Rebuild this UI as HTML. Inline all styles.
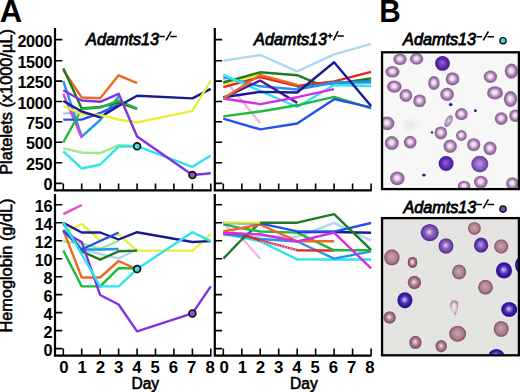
<!DOCTYPE html>
<html><head><meta charset="utf-8"><title>Figure</title><style>html,body{margin:0;padding:0;background:#fff;width:520px;height:392px;overflow:hidden}svg{display:block}text{font-family:"Liberation Sans",sans-serif;fill:#000}</style></head><body>
<svg width="520" height="392" viewBox="0 0 520 392">
<defs><radialGradient id="gn" cx="0.5" cy="0.5" r="0.5" fx="0.47" fy="0.45"><stop offset="0" stop-color="#f6eef6"/><stop offset="0.28" stop-color="#ecdcec"/><stop offset="0.5" stop-color="#c6a4cc"/><stop offset="0.66" stop-color="#a680b2"/><stop offset="0.86" stop-color="#8e6498"/><stop offset="1" stop-color="#946f9e"/></radialGradient><radialGradient id="gd" cx="0.5" cy="0.5" r="0.5" fx="0.47" fy="0.45"><stop offset="0" stop-color="#9468d4"/><stop offset="0.3" stop-color="#7a48c4"/><stop offset="0.6" stop-color="#5e2eb2"/><stop offset="0.85" stop-color="#4a1e9c"/><stop offset="1" stop-color="#4a2496"/></radialGradient><radialGradient id="gm" cx="0.5" cy="0.5" r="0.5" fx="0.47" fy="0.45"><stop offset="0" stop-color="#b898dc"/><stop offset="0.3" stop-color="#a07ed0"/><stop offset="0.6" stop-color="#8860c0"/><stop offset="0.85" stop-color="#6c46a6"/><stop offset="1" stop-color="#7050a8"/></radialGradient><radialGradient id="gs" cx="0.5" cy="0.5" r="0.5" fx="0.47" fy="0.45"><stop offset="0" stop-color="#4a1c8c"/><stop offset="1" stop-color="#2a0c60"/></radialGradient><radialGradient id="gt" cx="0.5" cy="0.5" r="0.5" fx="0.47" fy="0.45"><stop offset="0" stop-color="#e4d8ec"/><stop offset="0.4" stop-color="#c4b0d0"/><stop offset="0.75" stop-color="#a890b6"/><stop offset="1" stop-color="#8c74a0"/></radialGradient><radialGradient id="gp" cx="0.5" cy="0.5" r="0.5" fx="0.47" fy="0.45"><stop offset="0" stop-color="#e6dcf0"/><stop offset="0.2" stop-color="#bca2d8"/><stop offset="0.45" stop-color="#8a62bc"/><stop offset="0.75" stop-color="#7048a8"/><stop offset="0.92" stop-color="#56308c"/><stop offset="1" stop-color="#6c4c9c"/></radialGradient><radialGradient id="gp2" cx="0.5" cy="0.5" r="0.5" fx="0.47" fy="0.45"><stop offset="0" stop-color="#b6a2e2"/><stop offset="0.3" stop-color="#9070cc"/><stop offset="0.6" stop-color="#6c3eb0"/><stop offset="0.85" stop-color="#50268e"/><stop offset="1" stop-color="#5a3494"/></radialGradient><radialGradient id="gb" cx="0.5" cy="0.5" r="0.5" fx="0.47" fy="0.45"><stop offset="0" stop-color="#d4ccf2"/><stop offset="0.22" stop-color="#9a84dc"/><stop offset="0.5" stop-color="#4c2cb4"/><stop offset="0.82" stop-color="#2c128e"/><stop offset="1" stop-color="#3a2496"/></radialGradient><radialGradient id="gr" cx="0.5" cy="0.5" r="0.5" fx="0.47" fy="0.45"><stop offset="0" stop-color="#caa8b2"/><stop offset="0.35" stop-color="#b88f9c"/><stop offset="0.65" stop-color="#aa8290"/><stop offset="0.88" stop-color="#8c5e6c"/><stop offset="1" stop-color="#9a707c"/></radialGradient><radialGradient id="grs" cx="0.5" cy="0.5" r="0.5" fx="0.47" fy="0.45"><stop offset="0" stop-color="#f4e8ee"/><stop offset="0.35" stop-color="#d0b0bc"/><stop offset="0.65" stop-color="#9a6478"/><stop offset="1" stop-color="#7a4a60"/></radialGradient><radialGradient id="grd" cx="0.5" cy="0.5" r="0.5" fx="0.47" fy="0.45"><stop offset="0" stop-color="#f2e6ee"/><stop offset="0.22" stop-color="#d4b6c4"/><stop offset="0.48" stop-color="#ac8294"/><stop offset="0.78" stop-color="#8c6072"/><stop offset="1" stop-color="#7e5466"/></radialGradient><radialGradient id="gtb" cx="0.5" cy="0.5" r="0.5" fx="0.47" fy="0.45"><stop offset="0" stop-color="#f4eaf0"/><stop offset="0.5" stop-color="#e0cad6"/><stop offset="0.8" stop-color="#b696a8"/><stop offset="1" stop-color="#98788a"/></radialGradient><radialGradient id="smg"><stop offset="0" stop-color="#e6e6ea" stop-opacity="0.9"/><stop offset="1" stop-color="#e6e6ea" stop-opacity="0"/></radialGradient><linearGradient id="bgb" x1="0" y1="0" x2="0" y2="1"><stop offset="0" stop-color="#e4e3e1"/><stop offset="1" stop-color="#e3e5e1"/></linearGradient><clipPath id="ct"><rect x="383" y="53.3" width="135" height="134.8"/></clipPath><clipPath id="cb"><rect x="383" y="219.2" width="135" height="135.2"/></clipPath></defs>
<rect width="520" height="392" fill="#fff"/>
<g fill="none" stroke-width="2.4" stroke-linejoin="round" stroke-linecap="butt"><polyline points="63.3,148.3 81.7,152.5 100.2,153.2 118.6,145.2 137.1,146.0" stroke="#98ec90"/><polyline points="63.3,151.3 81.7,168.5 100.2,164.5 118.6,146.6 137.1,146.2 192.4,166.8 210.8,155.4" stroke="#2ee4f0"/><polyline points="63.3,113.6 81.7,112.2" stroke="#a8c8f0"/><polyline points="63.3,81.0 81.7,136.6 100.2,120.0 118.6,96.5" stroke="#2496f0"/><polyline points="63.3,93.8 81.7,138.0" stroke="#d04cd8"/><polyline points="63.3,119.6 81.7,119.6 100.2,113.0 118.6,104.5" stroke="#2450ee"/><polyline points="63.3,70.0 81.7,97.5 100.2,98.3 118.6,75.3 137.1,83.2" stroke="#ee6a1e"/><polyline points="63.3,68.3 81.7,108.5 100.2,107.0 118.6,102.5 137.1,108.8" stroke="#1f7a22"/><polyline points="63.3,142.3 81.7,109.0 100.2,107.5 118.6,100.5 137.1,108.5" stroke="#22b83a"/><polyline points="100.2,117.3 118.6,106.0 137.1,95.7 192.4,98.4 210.8,88.9" stroke="#1c1a92"/><polyline points="63.3,106.0 81.7,114.2 100.2,115.0 118.6,119.5 137.1,122.5 192.4,110.9 210.8,80.5" stroke="#e6f03c"/><polyline points="63.3,101.0 81.7,111.5 100.2,117.3" stroke="#1c1a92"/><polyline points="63.3,90.3 81.7,100.5 100.2,101.8 118.6,93.8 137.1,136.4 192.4,175.0 210.8,173.2" stroke="#8232e4"/></g>
<g fill="none" stroke-width="2.4" stroke-linejoin="round" stroke-linecap="butt"><polyline points="223.3,60.8 260.2,55.0 297.2,71.4 334.1,54.3 371.1,43.9" stroke="#acd8f0"/><polyline points="223.3,78.0 260.2,123.3" stroke="#f2b6e6"/><polyline points="223.3,84.0 260.2,74.5" stroke="#e6f03c"/><polyline points="223.3,82.5 260.2,72.3 297.2,75.2 315.6,82.9 334.1,84.0 371.1,78.4" stroke="#1f7a22"/><polyline points="223.3,87.1 260.2,77.2 297.2,86.0 334.1,81.4 371.1,71.8" stroke="#e8261e"/><polyline points="297.2,88.0 334.1,83.0 371.1,81.0" stroke="#208c9c"/><polyline points="223.3,77.2 260.2,86.3 297.2,89.5 334.1,82.5 371.1,82.5" stroke="#2496f0"/><polyline points="223.3,74.9 297.2,107.0 334.1,85.0 371.1,86.0" stroke="#2ee4f0"/><polyline points="223.3,97.8 260.2,80.5 297.2,102.9" stroke="#4c1a8c"/><polyline points="223.3,98.5 260.2,104.1 297.2,97.2 334.1,89.1" stroke="#d22ee4"/><polyline points="223.3,97.3 260.2,91.9 297.2,92.5 334.1,62.3 371.1,106.0" stroke="#1c1a92"/><polyline points="223.3,98.6 260.2,74.9 297.2,84.8" stroke="#ee6a1e"/><polyline points="223.3,116.4 260.2,111.5 297.2,105.3 334.1,96.8 371.1,108.3" stroke="#22b83a"/><polyline points="223.3,118.7 260.2,129.4 297.2,123.5 334.1,99.2 371.1,107.3" stroke="#2450ee"/></g>
<g fill="none" stroke-width="2.4" stroke-linejoin="round" stroke-linecap="butt"><polyline points="63.3,214.1 81.7,205.0" stroke="#e44cc8"/><polyline points="63.3,241.4 81.7,243.5 100.2,248.6 118.6,241.0" stroke="#98ec90"/><polyline points="81.7,249.5 118.6,258.4 137.1,249.5" stroke="#acd8f0"/><polyline points="63.3,230.0 81.7,249.5 100.2,249.5 118.6,249.0" stroke="#2496f0"/><polyline points="63.3,233.0 81.7,224.0 100.2,240.5 118.6,234.3 137.1,250.6 192.4,250.6 210.8,233.8" stroke="#e6f03c"/><polyline points="63.3,230.0 81.7,277.5 100.2,277.5 118.6,261.0 137.1,269.4" stroke="#ee6a1e"/><polyline points="63.3,250.5 81.7,286.4 100.2,286.4 118.6,268.1 137.1,268.5" stroke="#22b83a"/><polyline points="63.3,223.5 81.7,251.3 100.2,259.6 118.6,251.3 137.1,250.6" stroke="#1f7a22"/><polyline points="63.3,222.8 81.7,232.5 100.2,232.5 118.6,239.5 137.1,232.2 192.4,242.0 210.8,241.1" stroke="#1c1a92"/><polyline points="63.3,232.0 81.7,242.0 100.2,295.0 118.6,304.5 137.1,331.4 192.4,313.4 210.8,286.4" stroke="#8232e4"/><polyline points="63.3,230.5 81.7,249.5 118.6,232.5" stroke="#2450ee"/><polyline points="63.3,222.4 100.2,286.4 118.6,286.4 137.1,269.1 192.4,232.2 210.8,241.1" stroke="#2ee4f0"/></g>
<g fill="none" stroke-width="2.4" stroke-linejoin="round" stroke-linecap="butt"><polyline points="223.3,224.0 241.8,238.0 260.2,258.7" stroke="#f2b6e6"/><polyline points="223.3,233.5 260.2,241.3 297.2,259.4 334.1,259.5 371.1,259.5" stroke="#2ee4f0"/><polyline points="223.3,234.0 260.2,236.0 297.2,237.0 334.1,222.9 371.1,240.7" stroke="#acd8f0"/><polyline points="223.3,234.2 241.8,236.2 260.2,239.0 297.2,241.5 334.1,258.6 371.1,251.4" stroke="#2496f0"/><polyline points="223.3,233.3 241.8,234.0 260.2,240.4 297.2,250.2 334.1,250.5" stroke="#e8261e"/><polyline points="260.2,241.3 297.2,250.2" stroke="#d098e8" stroke-dasharray="1.6 1.1"/><polyline points="223.3,258.6 241.8,239.5 260.2,222.8" stroke="#1f7a22"/><polyline points="223.3,224.1 241.8,228.3 260.2,231.5 297.2,232.6 334.1,250.3 371.1,250.3" stroke="#22b83a"/><polyline points="223.3,231.5 260.2,224.5 297.2,241.3 334.1,241.3" stroke="#ee6a1e"/><polyline points="297.2,232.0 334.1,232.0 371.1,232.7" stroke="#1c1a92"/><polyline points="223.3,223.0 260.2,223.4 297.2,231.4 334.1,231.7 371.1,223.0" stroke="#2450ee"/><polyline points="223.3,222.6 260.2,222.6" stroke="#e6f03c"/><polyline points="223.3,233.0 260.2,234.3 297.2,241.5 334.1,232.7 371.1,268.4" stroke="#d22ee4"/><polyline points="260.2,222.7 297.2,222.7 334.1,214.2 371.1,249.8" stroke="#1f7a22"/></g>
<circle cx="137.1" cy="146.2" r="3.4" fill="#3ee0e0" stroke="#111" stroke-width="1.7"/><circle cx="192.4" cy="175.0" r="3.4" fill="#9050d0" stroke="#111" stroke-width="1.7"/>
<circle cx="137.1" cy="269.1" r="3.4" fill="#3ee0e0" stroke="#111" stroke-width="1.7"/><circle cx="192.4" cy="313.4" r="3.4" fill="#9050d0" stroke="#111" stroke-width="1.7"/>
<path d="M55,28V190.4H211.5" stroke="#000" stroke-width="2.2" fill="none"/><path d="M55,39.6h7.3M55,60.7h7.3M55,81.1h7.3M55,101.5h7.3M55,121.7h7.3M55,142.2h7.3M55,162.8h7.3M55,183.4h7.3M63.3,190.4V183.5M81.7,190.4V183.5M100.2,190.4V183.5M118.6,190.4V183.5M137.1,190.4V183.5M155.5,190.4V183.5M173.9,190.4V183.5M192.4,190.4V183.5M210.8,190.4V183.5" stroke="#000" stroke-width="1.6" fill="none"/><path d="M214.8,28V190.4H371.6" stroke="#000" stroke-width="2.2" fill="none"/><path d="M214.8,39.6h7.3M214.8,60.7h7.3M214.8,81.1h7.3M214.8,101.5h7.3M214.8,121.7h7.3M214.8,142.2h7.3M214.8,162.8h7.3M214.8,183.4h7.3M223.3,190.4V183.5M241.8,190.4V183.5M260.2,190.4V183.5M278.7,190.4V183.5M297.2,190.4V183.5M315.6,190.4V183.5M334.1,190.4V183.5M352.6,190.4V183.5M371.1,190.4V183.5" stroke="#000" stroke-width="1.6" fill="none"/><path d="M55,194V355.6H211.5" stroke="#000" stroke-width="2.2" fill="none"/><path d="M55,204.8h7.3M55,222.8h7.3M55,240.8h7.3M55,258.7h7.3M55,276.7h7.3M55,294.6h7.3M55,312.6h7.3M55,330.6h7.3M55,348.6h7.3M63.3,355.6V348.6M81.7,355.6V348.6M100.2,355.6V348.6M118.6,355.6V348.6M137.1,355.6V348.6M155.5,355.6V348.6M173.9,355.6V348.6M192.4,355.6V348.6M210.8,355.6V348.6" stroke="#000" stroke-width="1.6" fill="none"/><path d="M214.8,194V355.6H371.6" stroke="#000" stroke-width="2.2" fill="none"/><path d="M214.8,204.8h7.3M214.8,222.8h7.3M214.8,240.8h7.3M214.8,258.7h7.3M214.8,276.7h7.3M214.8,294.6h7.3M214.8,312.6h7.3M214.8,330.6h7.3M214.8,348.6h7.3M223.3,355.6V348.6M241.8,355.6V348.6M260.2,355.6V348.6M278.7,355.6V348.6M297.2,355.6V348.6M315.6,355.6V348.6M334.1,355.6V348.6M352.6,355.6V348.6M371.1,355.6V348.6" stroke="#000" stroke-width="1.6" fill="none"/>
<g font-size="16.2" letter-spacing="-0.3" font-weight="bold"><text x="52.2" y="46.5" text-anchor="end">2000</text><text x="52.2" y="67.8" text-anchor="end">1500</text><text x="52.2" y="88.2" text-anchor="end">1250</text><text x="52.2" y="108.5" text-anchor="end">1000</text><text x="52.2" y="128.9" text-anchor="end">750</text><text x="52.2" y="149.3" text-anchor="end">500</text><text x="52.2" y="169.7" text-anchor="end">250</text><text x="52.2" y="190.3" text-anchor="end">0</text><text x="52.2" y="211.6" text-anchor="end">16</text><text x="52.2" y="229.6" text-anchor="end">14</text><text x="52.2" y="247.6" text-anchor="end">12</text><text x="52.2" y="265.6" text-anchor="end">10</text><text x="52.2" y="283.6" text-anchor="end">8</text><text x="52.2" y="301.6" text-anchor="end">6</text><text x="52.2" y="319.6" text-anchor="end">4</text><text x="52.2" y="337.6" text-anchor="end">2</text><text x="52.2" y="355.6" text-anchor="end">0</text></g>
<g font-size="16.8" font-weight="bold"><text x="63.90" y="373.2" text-anchor="middle">0</text><text x="224.10" y="373.2" text-anchor="middle">0</text><text x="82.17" y="373.2" text-anchor="middle">1</text><text x="242.32" y="373.2" text-anchor="middle">1</text><text x="100.44" y="373.2" text-anchor="middle">2</text><text x="260.54" y="373.2" text-anchor="middle">2</text><text x="118.71" y="373.2" text-anchor="middle">3</text><text x="278.76" y="373.2" text-anchor="middle">3</text><text x="136.98" y="373.2" text-anchor="middle">4</text><text x="296.98" y="373.2" text-anchor="middle">4</text><text x="155.25" y="373.2" text-anchor="middle">5</text><text x="315.20" y="373.2" text-anchor="middle">5</text><text x="173.52" y="373.2" text-anchor="middle">6</text><text x="333.42" y="373.2" text-anchor="middle">6</text><text x="191.79" y="373.2" text-anchor="middle">7</text><text x="351.64" y="373.2" text-anchor="middle">7</text><text x="210.06" y="373.2" text-anchor="middle">8</text><text x="369.86" y="373.2" text-anchor="middle">8</text></g>
<text transform="translate(-0.2,21.9) scale(0.97,1)" font-size="32" font-weight="bold">A</text><text transform="translate(379.3,21.6) scale(0.93,1)" font-size="32" font-weight="bold">B</text><text x="86.1" y="45.3" font-size="16.2" font-style="italic" stroke="#000" stroke-width="0.8">Adamts13</text><text x="254.1" y="45.3" font-size="16.2" font-style="italic" stroke="#000" stroke-width="0.8">Adamts13</text><text x="403.1" y="45.0" font-size="16.2" font-style="italic" stroke="#000" stroke-width="0.8">Adamts13</text><text x="403.4" y="213.0" font-size="16.2" font-style="italic" stroke="#000" stroke-width="0.8">Adamts13</text><path d="M159.4,36.6h5.4M166.0,40.3L171.2,31.4M170.2,36.6h6.6" stroke="#000" stroke-width="1.5" fill="none"/><path d="M476.6,36.7h5.4M483.2,40.4L488.4,31.5M487.4,36.7h6.6" stroke="#000" stroke-width="1.5" fill="none"/><path d="M476.6,204.6h5.4M483.2,208.3L488.4,199.4M487.4,204.6h6.6" stroke="#000" stroke-width="1.5" fill="none"/><path d="M327.6,35.7h5M330.1,33.2v5M333.5,40.3L338.1,31.1M337.3,36.1h6.5" stroke="#000" stroke-width="1.5" fill="none"/><circle cx="503" cy="40.7" r="3.1" fill="#3ee0d8" stroke="#111" stroke-width="1.4"/><circle cx="503" cy="209.1" r="3.1" fill="#8a44d8" stroke="#111" stroke-width="1.4"/><text transform="translate(12.4,101.95) rotate(-90)" text-anchor="middle" font-size="16.38" stroke="#000" stroke-width="0.55">Platelets (x1000/&#181;L)</text><text transform="translate(12.4,265.55) rotate(-90)" text-anchor="middle" font-size="16.29" stroke="#000" stroke-width="0.55">Hemoglobin (g/dL)</text><text x="145.3" y="388.5" text-anchor="middle" font-size="15.6" stroke="#000" stroke-width="0.6">Day</text><text x="303.9" y="388.5" text-anchor="middle" font-size="15.6" stroke="#000" stroke-width="0.6">Day</text>
<rect x="383" y="53.3" width="135" height="134.8" fill="#f7f7f8"/><ellipse cx="411" cy="125" rx="11" ry="9" fill="url(#smg)"/><g clip-path="url(#ct)"><ellipse cx="400" cy="59.3" rx="6.7" ry="5.8" fill="url(#gn)"/><ellipse cx="416.6" cy="58.9" rx="6.7" ry="5.8" fill="url(#gn)"/><ellipse cx="442.5" cy="63.4" rx="7.3999999999999995" ry="7.3999999999999995" fill="url(#gd)"/><ellipse cx="392.5" cy="71.8" rx="7.1" ry="5.8" fill="url(#gn)"/><ellipse cx="394.3" cy="86.6" rx="7.3" ry="6.1" fill="url(#gn)"/><ellipse cx="433.9" cy="83" rx="5.8" ry="7.0" fill="url(#gn)"/><ellipse cx="405.9" cy="95.5" rx="6.3999999999999995" ry="6.3999999999999995" fill="url(#gn)"/><ellipse cx="419.6" cy="100.9" rx="6.3999999999999995" ry="6.3999999999999995" fill="url(#gn)"/><ellipse cx="452.5" cy="78.9" rx="6.8999999999999995" ry="6.6" fill="url(#gn)"/><ellipse cx="447.1" cy="94.3" rx="6.8999999999999995" ry="6.6" fill="url(#gn)"/><ellipse cx="490.4" cy="76.8" rx="6.7" ry="6.2" fill="url(#gn)"/><ellipse cx="511.4" cy="71.1" rx="6.7" ry="7.6" fill="url(#gn)"/><ellipse cx="495" cy="92.9" rx="8.0" ry="6.6" fill="url(#gn)"/><ellipse cx="510.5" cy="99.1" rx="6.7" ry="8.0" fill="url(#gn)"/><ellipse cx="450.7" cy="104.5" rx="1.8" ry="1.6" fill="url(#gs)"/><ellipse cx="475.4" cy="110.7" rx="1.4" ry="1.4" fill="url(#gs)"/><ellipse cx="461.4" cy="114.2" rx="6.3" ry="6.1" fill="url(#gn)"/><ellipse cx="448.6" cy="121.2" rx="3.3" ry="6.5" fill="url(#gt)" transform="rotate(28 448.6 121.2)"/><ellipse cx="501.2" cy="118.6" rx="6.5" ry="6.3" fill="url(#gn)"/><ellipse cx="515.5" cy="115.7" rx="6.3" ry="6.3" fill="url(#gn)"/><ellipse cx="387.1" cy="123.3" rx="7.3" ry="6.8999999999999995" fill="url(#gn)"/><ellipse cx="391.8" cy="143.1" rx="7.0" ry="7.0" fill="url(#gn)"/><ellipse cx="410.2" cy="142.2" rx="6.3999999999999995" ry="6.3999999999999995" fill="url(#gn)"/><ellipse cx="397.3" cy="178.4" rx="7.3" ry="6.8999999999999995" fill="url(#gn)"/><ellipse cx="432" cy="132.4" rx="1.2" ry="1.2" fill="url(#gs)"/><ellipse cx="423.9" cy="174.9" rx="1.7" ry="1.5" fill="url(#gs)"/><ellipse cx="440.8" cy="132.9" rx="6.3" ry="6.5" fill="url(#gn)"/><ellipse cx="461.4" cy="135.5" rx="5.3999999999999995" ry="5.3999999999999995" fill="url(#gn)"/><ellipse cx="450.2" cy="146.3" rx="6.7" ry="6.7" fill="url(#gn)"/><ellipse cx="473.7" cy="144.7" rx="6.7" ry="6.5" fill="url(#gn)"/><ellipse cx="490" cy="148.4" rx="6.6" ry="6.8999999999999995" fill="url(#gn)"/><ellipse cx="446.1" cy="163.5" rx="7.5" ry="7.5" fill="url(#gd)"/><ellipse cx="479.8" cy="164.1" rx="8.600000000000001" ry="8.3" fill="url(#gm)"/><ellipse cx="480.8" cy="182" rx="6.8999999999999995" ry="6.3" fill="url(#gn)"/><ellipse cx="464.1" cy="186" rx="6.3" ry="5.3" fill="url(#gn)"/><ellipse cx="512.4" cy="183.5" rx="6.3" ry="6.3" fill="url(#gn)"/></g><rect x="383" y="219.2" width="135" height="135.2" fill="url(#bgb)"/><g clip-path="url(#cb)"><ellipse cx="429.7" cy="232.6" rx="9.9" ry="9.4" fill="#efe6ee"/><ellipse cx="429.7" cy="232.6" rx="9.1" ry="8.6" fill="url(#gp)"/><ellipse cx="446" cy="246" rx="8.3" ry="8.5" fill="#efe6ee"/><ellipse cx="446" cy="246" rx="7.5" ry="7.7" fill="url(#gp)"/><ellipse cx="391.9" cy="257.4" rx="8.6" ry="8.9" fill="#efe6ee"/><ellipse cx="391.9" cy="257.4" rx="7.8" ry="8.1" fill="url(#gr)"/><ellipse cx="412.5" cy="262.4" rx="5.6" ry="6.5" fill="#efe6ee"/><ellipse cx="412.5" cy="262.4" rx="4.8" ry="5.7" fill="url(#grs)"/><ellipse cx="414.4" cy="282.5" rx="7.5" ry="7.5" fill="#efe6ee"/><ellipse cx="414.4" cy="282.5" rx="6.7" ry="6.7" fill="url(#grd)"/><ellipse cx="474.4" cy="228.4" rx="7.3" ry="7.3" fill="#efe6ee"/><ellipse cx="474.4" cy="228.4" rx="6.5" ry="6.5" fill="url(#gr)"/><ellipse cx="481.1" cy="245.2" rx="8.0" ry="8.4" fill="#efe6ee"/><ellipse cx="481.1" cy="245.2" rx="7.2" ry="7.6" fill="url(#gp2)"/><ellipse cx="501.2" cy="246.5" rx="8.0" ry="8.0" fill="#efe6ee"/><ellipse cx="501.2" cy="246.5" rx="7.2" ry="7.2" fill="url(#gr)"/><ellipse cx="459.1" cy="272" rx="8.0" ry="8.4" fill="#efe6ee"/><ellipse cx="459.1" cy="272" rx="7.2" ry="7.6" fill="url(#gr)"/><ellipse cx="504" cy="270.4" rx="8.9" ry="8.9" fill="#efe6ee"/><ellipse cx="504" cy="270.4" rx="8.1" ry="8.1" fill="url(#gb)"/><ellipse cx="520" cy="265" rx="5.8" ry="8.3" fill="#efe6ee"/><ellipse cx="520" cy="265" rx="5" ry="7.5" fill="url(#gb)"/><ellipse cx="485.5" cy="287.3" rx="8.3" ry="8.3" fill="#efe6ee"/><ellipse cx="485.5" cy="287.3" rx="7.5" ry="7.5" fill="url(#gr)"/><ellipse cx="404.9" cy="300.3" rx="8.4" ry="8.9" fill="#efe6ee"/><ellipse cx="404.9" cy="300.3" rx="7.6" ry="8.1" fill="url(#gb)"/><ellipse cx="389.6" cy="317.5" rx="7.0" ry="7.0" fill="#efe6ee"/><ellipse cx="389.6" cy="317.5" rx="6.2" ry="6.2" fill="url(#grd)"/><ellipse cx="415.4" cy="342.4" rx="7.0" ry="7.5" fill="#efe6ee"/><ellipse cx="415.4" cy="342.4" rx="6.2" ry="6.7" fill="url(#grd)"/><ellipse cx="441.2" cy="346.2" rx="6.5" ry="7.0" fill="#efe6ee"/><ellipse cx="441.2" cy="346.2" rx="5.7" ry="6.2" fill="url(#grd)"/><path d="M455.6,316.2C452.2,312.2 449.4,308.6 449.8,304.6A4.4,4.4 0 0 1 458.6,303.8C459,307.5 457.4,311.8 455.6,316.2Z" fill="url(#gtb)" stroke="#f2eaf0" stroke-width="0.8"/><ellipse cx="509.2" cy="309.5" rx="8.9" ry="8.4" fill="#efe6ee"/><ellipse cx="509.2" cy="309.5" rx="8.1" ry="7.6" fill="url(#gb)"/><ellipse cx="457.6" cy="333.8" rx="9.4" ry="8.9" fill="#efe6ee"/><ellipse cx="457.6" cy="333.8" rx="8.6" ry="8.1" fill="url(#gr)"/><ellipse cx="501.2" cy="329" rx="8.4" ry="8.9" fill="#efe6ee"/><ellipse cx="501.2" cy="329" rx="7.6" ry="8.1" fill="url(#gr)"/><ellipse cx="496.4" cy="356" rx="8.8" ry="7.8" fill="#efe6ee"/><ellipse cx="496.4" cy="356" rx="8" ry="7" fill="url(#gb)"/></g><rect x="382.05" y="52.3" width="136.85" height="136.8" fill="none" stroke="#000" stroke-width="2.3"/><rect x="382.05" y="218.1" width="136.85" height="137.2" fill="none" stroke="#000" stroke-width="2.3"/>
</svg>
</body></html>
